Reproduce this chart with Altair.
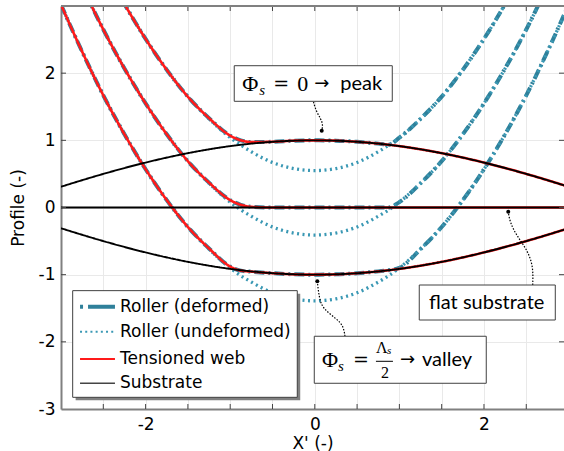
import altair as alt
import pandas as pd

# ---------------- data ----------------
series_names = ["Roller (deformed)", "Roller (undeformed)", "Tensioned web", "Substrate"]
series_colors = ["#2f809a", "#3a98b4", "#ff1a1a", "#000000"]
series_dash = [[10, 4, 2, 4], [2, 3.5], [1, 0], [1, 0]]
series_width = [4, 1.9, 2, 1]

x_grid = [-3, -2.75, -2.5, -2.25, -2, -1.75, -1.5, -1.25, -1, -0.875, -0.75, -0.5, -0.25, 0,
          0.25, 0.5, 0.75, 0.875, 1, 1.25, 1.5, 1.75, 2, 2.25, 2.5, 2.75, 3]

peak_undeformed = [4.96, 4.26, 3.61, 3.03, 2.51, 2.05, 1.65, 1.32, 1.04, 0.93, 0.83, 0.67, 0.58, 0.55,
                   0.58, 0.67, 0.83, 0.93, 1.04, 1.32, 1.65, 2.05, 2.51, 3.03, 3.61, 4.26, 4.96]
peak_deformed = [4.96, 4.26, 3.61, 3.03, 2.51, 2.05, 1.65, 1.33, 1.07, 1.0, 0.975, 0.978, 0.995, 1.0,
                 0.995, 0.978, 0.951, 0.935, 1.04, 1.32, 1.65, 2.05, 2.51, 3.03, 3.61, 4.26, 4.96]
peak_web = [4.96, 4.26, 3.61, 3.03, 2.51, 2.05, 1.65, 1.33, 1.07, 1.0, 0.975, 0.978, 0.995, 1.0,
            0.995, 0.978, 0.951, 0.934, 0.914, 0.866, 0.809, 0.743, 0.669, 0.588, 0.5, 0.407, 0.309]

flat_undeformed = [4.00, 3.30, 2.65, 2.07, 1.55, 1.09, 0.69, 0.36, 0.08, -0.035, -0.13, -0.29, -0.38, -0.41,
                   -0.38, -0.29, -0.13, -0.035, 0.08, 0.36, 0.69, 1.09, 1.55, 2.07, 2.65, 3.30, 4.00]
flat_deformed = [4.00, 3.30, 2.65, 2.07, 1.55, 1.09, 0.69, 0.37, 0.11, 0.04, 0.01, 0.0, 0.0, 0.0,
                 0.0, 0.0, 0.0, 0.0, 0.08, 0.36, 0.69, 1.09, 1.55, 2.07, 2.65, 3.30, 4.00]
flat_web = [4.00, 3.30, 2.65, 2.07, 1.55, 1.09, 0.69, 0.37, 0.11, 0.04, 0.01, 0.0, 0.0, 0.0,
            0.0, 0.0, 0.0, 0.0, 0.0, 0.0, 0.0, 0.0, 0.0, 0.0, 0.0, 0.0, 0.0]

valley_undeformed = [3.02, 2.32, 1.67, 1.09, 0.57, 0.11, -0.29, -0.62, -0.90, -1.015, -1.11, -1.27, -1.36, -1.39,
                     -1.36, -1.27, -1.11, -1.015, -0.90, -0.62, -0.29, 0.11, 0.57, 1.09, 1.67, 2.32, 3.02]
valley_deformed = [3.02, 2.32, 1.67, 1.09, 0.57, 0.11, -0.29, -0.61, -0.88, -0.94, -0.955, -0.978, -0.995, -1.0,
                   -0.995, -0.978, -0.951, -0.934, -0.90, -0.62, -0.29, 0.11, 0.57, 1.09, 1.67, 2.32, 3.02]
valley_web = [3.02, 2.32, 1.67, 1.09, 0.57, 0.11, -0.29, -0.61, -0.88, -0.94, -0.955, -0.978, -0.995, -1.0,
              -0.995, -0.978, -0.951, -0.934, -0.914, -0.866, -0.809, -0.743, -0.669, -0.588, -0.5, -0.407, -0.309]

x_sub = [-3, -2.5, -2, -1.5, -1, -0.5, 0, 0.5, 1, 1.5, 2, 2.5, 3]
peak_substrate = [0.309, 0.5, 0.669, 0.809, 0.914, 0.978, 1.0, 0.978, 0.914, 0.809, 0.669, 0.5, 0.309]
flat_substrate = [0, 0, 0, 0, 0, 0, 0, 0, 0, 0, 0, 0, 0]
valley_substrate = [-0.309, -0.5, -0.669, -0.809, -0.914, -0.978, -1.0, -0.978, -0.914, -0.809, -0.669, -0.5, -0.309]

x_ticks = [-2.5, -2, -1.5, -1, -0.5, 0, 0.5, 1, 1.5, 2, 2.5]
y_ticks = [-2, -1, 0, 1, 2]
y_labels = [-3, -2, -1, 0, 1, 2]

# annotation boxes (data coords) and connectors
boxes = pd.DataFrame({
    "x1": [-0.952, 1.235, -0.006],
    "x2": [0.916, 2.843, 2.027],
    "y1": [2.111, -1.154, -1.917],
    "y2": [1.581, -1.675, -2.617],
})

conn_id = ["peak"] * 5 + ["flat"] * 6 + ["valley"] * 6
conn_x = [-0.015, 0.014, 0.073, 0.097, 0.082,
          2.576, 2.583, 2.505, 2.387, 2.307, 2.287,
          0.357, 0.337, 0.259, 0.100, 0.053, 0.030]
conn_y = [1.571, 1.437, 1.318, 1.228, 1.144,
          -1.154, -0.866, -0.618, -0.420, -0.220, -0.062,
          -1.917, -1.760, -1.660, -1.511, -1.362, -1.099]
dot_x = [0.082, 2.287, 0.030]
dot_y = [1.144, -0.062, -1.099]

# legend frame (data coords)
legend_box = pd.DataFrame({"x1": [-2.862], "x2": [-0.207], "y1": [-1.238], "y2": [-2.826]})
legend_shadow = pd.DataFrame({"x1": [-2.827], "x2": [-0.172], "y1": [-1.283], "y2": [-2.871]})
legend_row_y = [-1.477, -1.849, -2.255, -2.617]
legend_sym_x1 = -2.775
legend_sym_x2 = -2.362
legend_text_x = -2.303

# ---------------- build tables ----------------
rows = []
def add(series, case, xs, ys):
    for i, (a, b) in enumerate(zip(xs, ys)):
        rows.append({"series": series, "case": case, "x": a, "y": b, "i": i})

add("Roller (deformed)", "peak", x_grid, peak_deformed)
add("Roller (deformed)", "flat", x_grid, flat_deformed)
add("Roller (deformed)", "valley", x_grid, valley_deformed)
add("Roller (undeformed)", "peak", x_grid, peak_undeformed)
add("Roller (undeformed)", "flat", x_grid, flat_undeformed)
add("Roller (undeformed)", "valley", x_grid, valley_undeformed)
add("Tensioned web", "peak", x_grid, peak_web)
add("Tensioned web", "flat", x_grid, flat_web)
add("Tensioned web", "valley", x_grid, valley_web)
add("Substrate", "peak", x_sub, peak_substrate)
add("Substrate", "flat", x_sub, flat_substrate)
add("Substrate", "valley", x_sub, valley_substrate)
df = pd.DataFrame(rows)

conn = pd.DataFrame({"id": conn_id, "x": conn_x, "y": conn_y, "i": list(range(len(conn_x)))})
dots = pd.DataFrame({"x": dot_x, "y": dot_y})

W, H = 503, 403
xscale = alt.Scale(domain=[-3, 2.946], nice=False, zero=False)
yscale = alt.Scale(domain=[-3, 3], nice=False, zero=False)

x_axis = alt.Axis(values=[-3] + x_ticks, labelExpr="datum.value % 2 == 0 ? toString(datum.value) : ''",
                  grid=True, ticks=False, labelOverlap=False, labelPadding=7, title="X' (-)",
                  titlePadding=3)
y_axis = alt.Axis(values=y_labels, labelExpr="toString(datum.value)", grid=True, ticks=False,
                  labelPadding=6, title="Profile (-)", titlePadding=11)

def X(f="x"):
    return alt.X(f"{f}:Q", scale=xscale, axis=x_axis)

def Y(f="y"):
    return alt.Y(f"{f}:Q", scale=yscale, axis=y_axis)

color = alt.Color("series:N", scale=alt.Scale(domain=series_names, range=series_colors), legend=None)
dash = alt.StrokeDash("series:N", scale=alt.Scale(domain=series_names, range=series_dash), legend=None)
swidth = alt.StrokeWidth("series:N", scale=alt.Scale(domain=series_names, range=series_width), legend=None)

layers = []
for name in series_names:
    layers.append(
        alt.Chart(df).transform_filter(alt.datum.series == name)
        .mark_line(clip=True, interpolate="monotone")
        .encode(x=X(), y=Y(), color=color, strokeDash=dash, strokeWidth=swidth,
                detail="case:N", order="i:Q")
    )

# inward ticks
tick_df = pd.DataFrame({"t": x_ticks})
ytick_df = pd.DataFrame({"t": y_ticks})
tcol = "#444444"
layers.append(alt.Chart(tick_df).mark_rule(color=tcol, strokeWidth=1).encode(
    x=X("t"), y=alt.value(H), y2=alt.value(H - 5)))
layers.append(alt.Chart(tick_df).mark_rule(color=tcol, strokeWidth=1).encode(
    x=X("t"), y=alt.value(0), y2=alt.value(5)))
layers.append(alt.Chart(ytick_df).mark_rule(color=tcol, strokeWidth=1).encode(
    y=Y("t"), x=alt.value(0), x2=alt.value(5)))
layers.append(alt.Chart(ytick_df).mark_rule(color=tcol, strokeWidth=1).encode(
    y=Y("t"), x=alt.value(W), x2=alt.value(W - 5)))
# top frame line
layers.append(alt.Chart(tick_df).mark_rule(color="#808080", strokeWidth=2).encode(
    x=alt.value(0), x2=alt.value(W), y=alt.value(0)))

# connectors and dots
layers.append(alt.Chart(conn).mark_line(interpolate="basis", color="black", strokeWidth=1.2,
                                        strokeDash=[1.5, 1.5]).encode(
    x=X(), y=Y(), detail="id:N", order="i:Q"))
layers.append(alt.Chart(dots).mark_circle(size=16, color="black", opacity=1).encode(x=X(), y=Y()))

# annotation boxes
layers.append(alt.Chart(boxes).mark_rect(fill="white", stroke="#404040", strokeWidth=1).encode(
    x=X("x1"), x2="x2", y=Y("y1"), y2="y2"))

def txt(text, ax, ay, dx, dy, font, size, align="left", style="normal"):
    d = pd.DataFrame({"x": [ax], "y": [ay], "t": [text]})
    return alt.Chart(d).mark_text(align=align, baseline="middle", dx=dx, dy=dy, font=font,
                                  fontSize=size, fontStyle=style, color="black").encode(
        x=X(), y=Y(), text="t:N")

serif = "Liberation Serif"
sans = "Lato"
a1x, a1y = -0.018, 1.836
layers += [
    txt("Φ", a1x, a1y, -71, 0, serif, 22),
    txt("s", a1x, a1y, -54, 6, serif, 15, style="italic"),
    txt("=", a1x, a1y, -40, 0, "DejaVu Serif", 19),
    txt("0", a1x, a1y, -16, 0, serif, 22),
    txt("→", a1x, a1y, 1, 0, "DejaVu Sans", 18),
    txt("peak", a1x, a1y, 27, 0, sans, 20),
]
a3x, a3y = 1.007, -2.276
layers += [
    txt("Φ", a3x, a3y, -78, 0, serif, 22),
    txt("s", a3x, a3y, -62, 6, serif, 15, style="italic"),
    txt("=", a3x, a3y, -47, 0, "DejaVu Serif", 19),
    txt("Λ", a3x, a3y, -24, -12, serif, 16),
    txt("s", a3x, a3y, -13, -9, serif, 11, style="italic"),
    txt("2", a3x, a3y, -15, 13, serif, 16, align="center"),
    txt("→", a3x, a3y, 0, 0, "DejaVu Sans", 18),
    txt("valley", a3x, a3y, 22, 0, sans, 20),
]
bar = pd.DataFrame({"x1": [0.723], "x2": [0.924], "y": [-2.29]})
layers.append(alt.Chart(bar).mark_rule(color="black", strokeWidth=1).encode(
    x=X("x1"), x2="x2", y=Y("y")))
layers.append(txt("flat substrate", 2.032, -1.422, 0, 0, sans, 20, align="center"))

# legend (drawn from the series scales)
layers.append(alt.Chart(legend_shadow).mark_rect(fill="#808080").encode(
    x=X("x1"), x2="x2", y=Y("y1"), y2="y2"))
layers.append(alt.Chart(legend_box).mark_rect(fill="white", stroke="#404040", strokeWidth=1).encode(
    x=X("x1"), x2="x2", y=Y("y1"), y2="y2"))
leg_styles = [([3, 5, 27, 5], 4), ([2, 3.2], 1.9), ([1, 0], 2), ([1, 0], 1.5)]
for name, ry, (dsh, wd) in zip(series_names, legend_row_y, leg_styles):
    d = pd.DataFrame({"series": [name], "x1": [legend_sym_x1], "x2": [legend_sym_x2], "y": [ry],
                      "tx": [legend_text_x]})
    if name == "Substrate":
        rule = alt.Chart(d).mark_rule(strokeDash=dsh, strokeWidth=wd, strokeCap="butt", color="#444444")
        layers.append(rule.encode(x=X("x1"), x2="x2", y=Y("y")))
    else:
        rule = alt.Chart(d).mark_rule(strokeDash=dsh, strokeWidth=wd, strokeCap="butt")
        layers.append(rule.encode(x=X("x1"), x2="x2", y=Y("y"), color=color))
    layers.append(alt.Chart(d).mark_text(align="left", baseline="middle", font="DejaVu Sans",
                                         fontSize=17, color="black").encode(
        x=X("tx"), y=Y("y"), text="series:N"))

chart = alt.layer(*layers).properties(
    width=W, height=H,
    autosize=alt.AutoSizeParams(type="none"),
    padding={"left": 61, "top": 6, "right": 0, "bottom": 42},
).configure_view(stroke=None).configure_axis(
    labelFont="DejaVu Sans", labelFontSize=17, labelColor="black",
    titleFont="DejaVu Sans", titleFontSize=17, titleFontWeight="normal", titleColor="black",
    gridColor="#e9e9e9", gridWidth=1, domainColor="#808080", domainWidth=2,
)

chart.save("out.html", embed_options={"renderer": "svg", "actions": False})
